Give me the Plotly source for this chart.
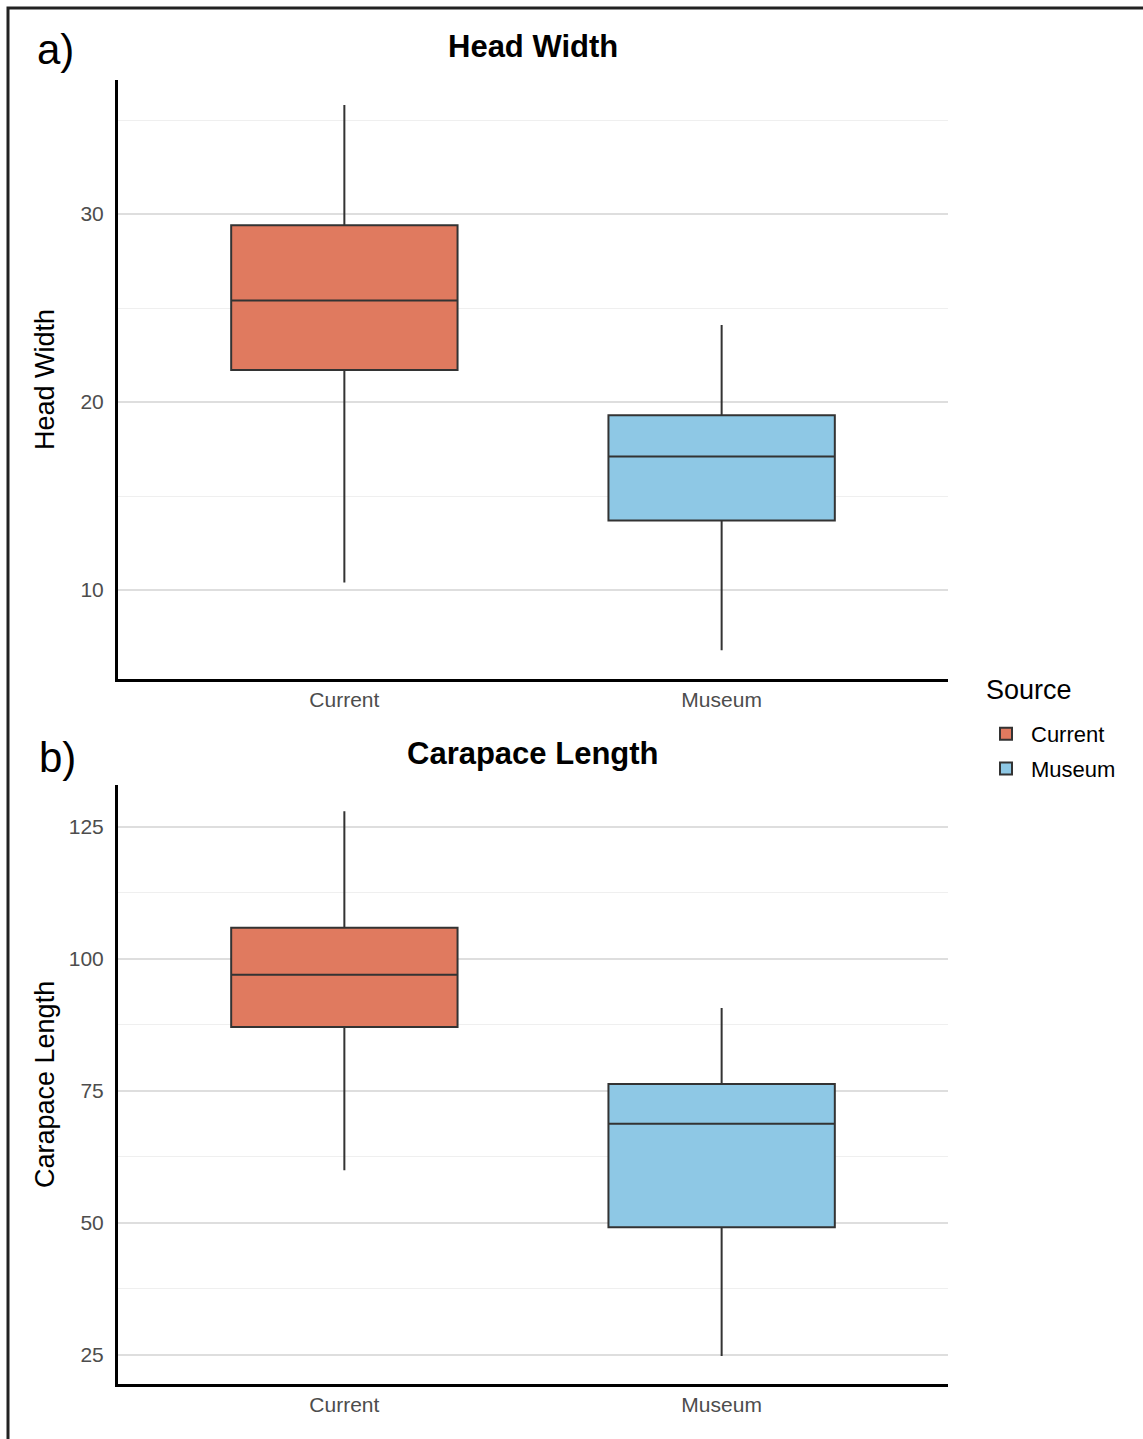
import plotly.graph_objects as go

# Summary statistics per source (box-plot five-number summaries)
sources = ["Current", "Museum"]
colors = ["#E07A5F", "#8EC8E5"]

hw_lower = [10.4, 6.8]
hw_q1 = [21.7, 13.7]
hw_median = [25.4, 17.1]
hw_q3 = [29.4, 19.3]
hw_upper = [35.8, 24.1]

cl_lower = [60.0, 24.8]
cl_q1 = [87.1, 49.2]
cl_median = [97.0, 68.8]
cl_q3 = [105.9, 76.3]
cl_upper = [128.0, 90.7]

W, H = 1143, 1439
FONT = "Liberation Sans, Arial, sans-serif"
TICK_GRAY = "#4D4D4D"

fig = go.Figure()


def add_panel(lower, q1, med, q3, upper, xa, ya, legend):
    for i, src in enumerate(sources):
        fig.add_trace(go.Box(
            x=[src], lowerfence=[lower[i]], q1=[q1[i]], median=[med[i]],
            q3=[q3[i]], upperfence=[upper[i]],
            name=src, legendgroup=src, showlegend=legend,
            fillcolor=colors[i], line=dict(color="#333333", width=2),
            width=0.6, whiskerwidth=0, boxpoints=False,
            xaxis=xa, yaxis=ya, hoverinfo="skip",
        ))


add_panel(hw_lower, hw_q1, hw_median, hw_q3, hw_upper, "x", "y", True)
add_panel(cl_lower, cl_q1, cl_median, cl_q3, cl_upper, "x2", "y2", False)

xdom = [118 / W, 948 / W]


def ydom(top, bottom):
    return [1 - bottom / H, 1 - top / H]


axis_common = dict(
    showline=True, linecolor="black", linewidth=3, ticks="",
    tickfont=dict(family=FONT, size=21, color=TICK_GRAY),
    zeroline=False,
)

fig.update_layout(
    width=W, height=H,
    margin=dict(l=0, r=0, t=0, b=0),
    paper_bgcolor="white", plot_bgcolor="white",
    boxmode="overlay",
    font=dict(family=FONT),
    xaxis=dict(domain=xdom, anchor="y", type="category", range=[-0.6, 1.6],
               showgrid=False, ticklabelstandoff=0, **axis_common),
    yaxis=dict(domain=ydom(80, 679), anchor="x", range=[5.27, 37.13],
               dtick=10, showgrid=True, gridcolor="#DEDEDE", gridwidth=1.5,
               minor=dict(dtick=5, showgrid=True, gridcolor="#EFEFEF", gridwidth=1.2),
               ticklabelstandoff=7, **axis_common),
    xaxis2=dict(domain=xdom, anchor="y2", type="category", range=[-0.6, 1.6],
                showgrid=False, ticklabelstandoff=0, **axis_common),
    yaxis2=dict(domain=ydom(785, 1384), anchor="x2", range=[19.5, 132.95],
                dtick=25, showgrid=True, gridcolor="#DEDEDE", gridwidth=1.5,
                minor=dict(dtick=12.5, showgrid=True, gridcolor="#EFEFEF", gridwidth=1.2),
                ticklabelstandoff=7, **axis_common),
    legend=dict(
        font=dict(family=FONT, size=22, color="black"),
        x=981 / W, y=1 - 713 / H, xanchor="left", yanchor="top",
        bgcolor="rgba(0,0,0,0)", tracegroupgap=3, itemwidth=40,
    ),
    showlegend=True,
)

# Panel titles, axis titles, legend heading and panel letters
annotations = [
    dict(text="<b>Head Width</b>", x=533, y=47, size=31, anchor="center", angle=0),
    dict(text="<b>Carapace Length</b>", x=533, y=753, size=31, anchor="center", angle=0),
    dict(text="a)", x=55, y=50, size=42, anchor="center", angle=0),
    dict(text="b)", x=57, y=757, size=42, anchor="center", angle=0),
    dict(text="Head Width", x=45, y=380, size=27, anchor="center", angle=-90),
    dict(text="Carapace Length", x=45, y=1085, size=27, anchor="center", angle=-90),
    dict(text="Source", x=984, y=690, size=27, anchor="left", angle=0),
]
for a in annotations:
    fig.add_annotation(xref="paper", yref="paper", showarrow=False,
                       xanchor=a["anchor"], yanchor="middle",
                       text=a["text"], x=a["x"] / W, y=1 - a["y"] / H,
                       textangle=a["angle"],
                       font=dict(family=FONT, color="black", size=a["size"]))

# Outer frame
fig.add_shape(type="rect", xref="paper", yref="paper",
              x0=8 / W, x1=1.05, y0=-0.05, y1=1 - 8 / H,
              line=dict(color="#222222", width=3), fillcolor="rgba(0,0,0,0)")

fig.write_html("out.html")
